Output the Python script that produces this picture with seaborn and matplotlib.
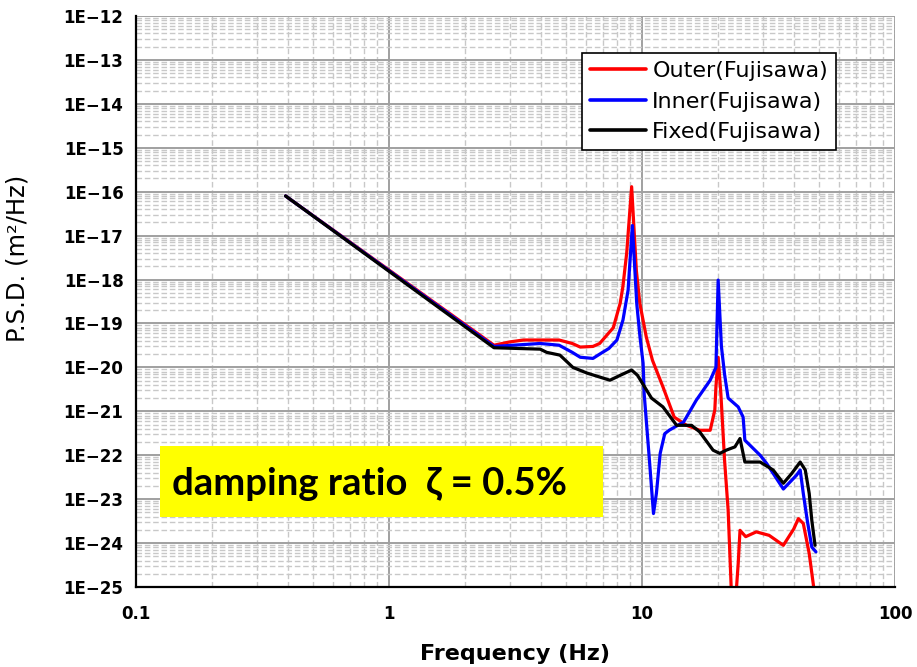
import numpy as np
import pandas as pd
import matplotlib
matplotlib.use("Agg")
import matplotlib.pyplot as plt
import matplotlib.ticker as mticker
from matplotlib.patches import Rectangle
import seaborn as sns

# ---------------- data ----------------
f_outer = [0.39, 2.6, 3.0, 3.4, 4.7, 5.3, 5.7, 6.4, 6.8, 7.7, 8.2, 8.4, 8.7, 9.1,
           9.5, 9.8, 10.4, 11.0, 12.1, 13.4, 15.0, 16.9, 18.6, 19.4, 19.6, 20.0,
           20.5, 21.2, 21.9, 22.7, 23.3, 24.0, 24.4, 25.7, 28.3, 31.8, 36.2, 39.8,
           41.5, 43.4, 45.8, 47.7, 48.5]
psd_outer = [8e-17, 3.2e-20, 3.8e-20, 4.2e-20, 4.2e-20, 3.5e-20, 2.9e-20, 3.0e-20,
             3.5e-20, 8e-20, 2.9e-19, 6.8e-19, 4e-18, 1.3e-16, 1.6e-18, 2.9e-19,
             4.9e-20, 1.45e-20, 3.6e-21, 7.4e-22, 4.8e-22, 3.7e-22, 3.7e-22,
             1.07e-21, 3.6e-21, 1.7e-20, 2.5e-21, 7.7e-23, 5.6e-24, 3e-26, 3e-26,
             3.4e-25, 1.95e-24, 1.4e-24, 1.8e-24, 1.5e-24, 8.9e-25, 2.1e-24,
             3.6e-24, 2.8e-24, 5.8e-25, 1e-25, 3e-26]

f_inner = [0.39, 2.6, 3.96, 4.7, 5.3, 5.7, 6.4, 6.8, 7.4, 7.96, 8.41, 8.81, 8.9,
           9.16, 9.53, 9.82, 10.1, 10.2, 10.7, 11.1, 11.4, 11.8, 12.3, 12.8, 14.6,
           16.4, 18.6, 19.6, 20.0, 20.6, 21.2, 21.9, 24.0, 25.1, 25.5, 29.3, 31.1,
           36.2, 40.8, 42.2, 43.4, 45.0, 46.9, 48.7]
psd_inner = [8e-17, 3.0e-20, 3.5e-20, 3.2e-20, 2.2e-20, 1.7e-20, 1.6e-20, 2.0e-20,
             2.7e-20, 4.2e-20, 1.2e-19, 5.7e-19, 1.4e-18, 1.7e-17, 2.9e-19,
             4.9e-20, 1.25e-20, 2.5e-21, 7.7e-23, 4.7e-24, 1.35e-23, 1.1e-22,
             3.1e-22, 3.7e-22, 5.7e-22, 1.8e-21, 5.1e-21, 1e-20, 9.7e-19, 3e-20,
             7e-21, 2e-21, 1.26e-21, 7.4e-22, 2.2e-22, 1.0e-22, 6.5e-23, 1.7e-23,
             3.5e-23, 4.6e-23, 1.35e-23, 3.3e-24, 8.1e-25, 6.3e-25]

f_fixed = [0.39, 2.6, 3.96, 4.2, 4.74, 5.33, 6.07, 7.47, 8.2, 9.1, 9.6, 10.9, 12.1,
           13.7, 15.7, 16.9, 19.1, 20.3, 21.5, 23.3, 24.4, 25.5, 29.3, 33.0, 36.2,
           39.0, 42.2, 44.2, 45.8, 46.9, 48.3]
psd_fixed = [8e-17, 2.8e-20, 2.6e-20, 2.2e-20, 1.9e-20, 1e-20, 7.4e-21, 5.1e-21,
             6.6e-21, 8.7e-21, 6.6e-21, 2e-21, 1.26e-21, 4.8e-22, 4.8e-22, 3.4e-22,
             1.3e-22, 1.1e-22, 1.3e-22, 1.55e-22, 2.4e-22, 7e-23, 7e-23, 4.6e-23,
             2.3e-23, 3.8e-23, 7e-23, 4.6e-23, 1.35e-23, 3.3e-24, 8.9e-25]

series_names = ["Outer(Fujisawa)", "Inner(Fujisawa)", "Fixed(Fujisawa)"]
series_colors = ["#ff0000", "#0000ff", "#000000"]

x_ticks = [0.1, 1, 10, 100]
x_tick_labels = ["0.1", "1", "10", "100"]
y_exponents = list(range(-25, -11))
y_tick_labels = ["1E\u2212%d" % (-e) for e in y_exponents]

annotation = "damping ratio  \u03b6 = 0.5%"

# ---------------- build table ----------------
frames = []
for name, fx, py in zip(series_names, [f_outer, f_inner, f_fixed],
                        [psd_outer, psd_inner, psd_fixed]):
    frames.append(pd.DataFrame({"freq": fx, "psd": py, "series": name}))
df = pd.concat(frames, ignore_index=True)

# ---------------- figure ----------------
sns.set_style("white")
plt.rcParams["font.family"] = ["DejaVu Sans"]
plt.rcParams["text.color"] = "black"
plt.rcParams["axes.labelcolor"] = "black"

fig = plt.figure(figsize=(9.17, 6.67), dpi=100)
ax = fig.add_axes([136 / 917, 1 - 587 / 667, (895 - 136) / 917, (587 - 16) / 667])

sns.lineplot(data=df, x="freq", y="psd", hue="series", hue_order=series_names,
             palette=series_colors, estimator=None, sort=False, linewidth=2.3,
             ax=ax, legend=True)

ax.set_xscale("log")
ax.set_yscale("log")
ax.set_xlim(0.1, 100)
ax.set_ylim(1e-25, 1e-12)

ax.xaxis.set_major_locator(mticker.FixedLocator(x_ticks))
ax.xaxis.set_major_formatter(mticker.FixedFormatter(x_tick_labels))
ax.xaxis.set_minor_locator(mticker.LogLocator(base=10, subs=np.arange(2, 10), numticks=20))
ax.xaxis.set_minor_formatter(mticker.NullFormatter())
ax.yaxis.set_major_locator(mticker.FixedLocator([10.0 ** e for e in y_exponents]))
ax.yaxis.set_major_formatter(mticker.FixedFormatter(y_tick_labels))
ax.yaxis.set_minor_locator(mticker.LogLocator(base=10, subs=np.arange(2, 10), numticks=40))
ax.yaxis.set_minor_formatter(mticker.NullFormatter())

ax.grid(which="major", color="#a0a0a0", linewidth=1.4, linestyle="-")
ax.grid(which="minor", color="#c8c8c8", linewidth=1.0, linestyle=(0, (4, 2)))
ax.set_axisbelow(True)

for s in ["top", "right"]:
    ax.spines[s].set_visible(False)
for s in ["left", "bottom"]:
    ax.spines[s].set_color("black")
    ax.spines[s].set_linewidth(1.6)

ax.tick_params(which="major", direction="in", length=6, width=1.3, colors="black",
               labelsize=12)
ax.tick_params(which="minor", direction="in", length=4, width=1.0, colors="black")
ax.tick_params(axis="y", which="major", pad=9)
ax.tick_params(axis="x", which="major", pad=13)
for lab in ax.get_xticklabels() + ax.get_yticklabels():
    lab.set_fontweight("bold")

ax.set_xlabel("Frequency (Hz)", fontsize=16, fontweight="bold", color="black")
ax.set_ylabel("P.S.D. (m\u00b2/Hz)", fontsize=17.5, fontweight="normal", color="black")
ax.xaxis.set_label_coords(0.5, -0.1)
ax.yaxis.set_label_coords(-0.14, 0.576)

leg = ax.legend(loc="upper left", bbox_to_anchor=(0.588, 0.935), borderaxespad=0,
                frameon=True, fancybox=False, fontsize=16, handlelength=2.5,
                handletextpad=0.3, labelspacing=0.48, borderpad=0.35, title=None)
leg.get_frame().set_edgecolor("black")
leg.get_frame().set_linewidth(1.2)
leg.get_frame().set_alpha(1)
for line in leg.get_lines():
    line.set_linewidth(2.6)
for txt in leg.get_texts():
    txt.set_color("black")

# yellow annotation box
fig.patches.append(Rectangle((160 / 917, 1 - 517 / 667), 443 / 917, 71 / 667,
                             transform=fig.transFigure, facecolor="#ffff00",
                             edgecolor="none", zorder=5))
fig.text(172 / 917, 1 - 484 / 667, annotation, fontsize=27.5, fontweight="bold",
         family=["Lato", "DejaVu Sans"], color="black", ha="left", va="center",
         zorder=6)

fig.savefig("out.png", dpi=100)
